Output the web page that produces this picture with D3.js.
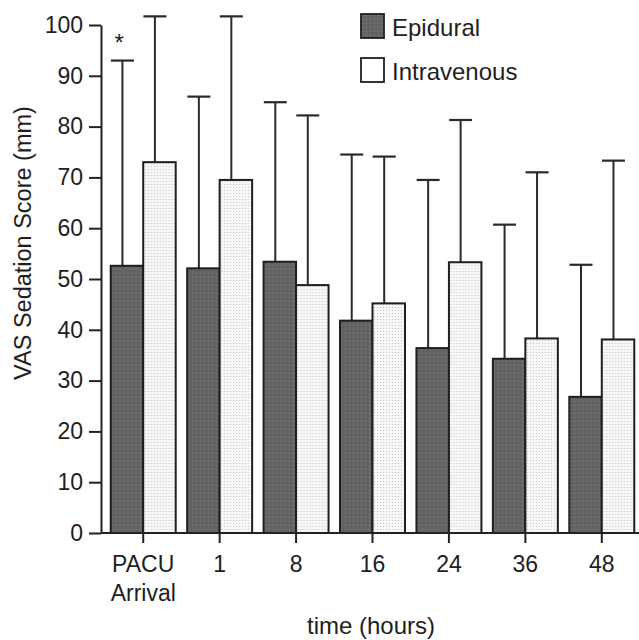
<!DOCTYPE html>
<html>
<head>
<meta charset="utf-8">
<script src="https://cdn.jsdelivr.net/npm/d3@7/dist/d3.min.js"></script>
<style>
  html, body { margin: 0; padding: 0; background: #fff; }
  svg { display: block; }
  text { font-family: "Liberation Sans", Arial, Helvetica, sans-serif; fill: #1e1e1e; }
</style>
</head>
<body>
<svg id="chart" width="639" height="640"></svg>
<script>
// ---- data ----
const categories = ["PACU\nArrival", "1", "8", "16", "24", "36", "48"];
const series = ["Epidural", "Intravenous"];
const epiduralMean = [52.6, 52.1, 53.4, 41.8, 36.4, 34.3, 26.8];
const epiduralSD   = [93.0, 85.9, 84.8, 74.5, 69.5, 60.7, 52.8];   // top of error bar
const ivMean       = [73.0, 69.5, 48.8, 45.2, 53.3, 38.3, 38.1];
const ivSD         = [101.7, 101.7, 82.2, 74.1, 81.3, 71.0, 73.3];  // top of error bar
const yTicks = [0, 10, 20, 30, 40, 50, 60, 70, 80, 90, 100];
const significant = [true, false, false, false, false, false, false];

const svg = d3.select("#chart");

// patterns
const defs = svg.append("defs");
const pE = defs.append("pattern").attr("id", "pEpi").attr("patternUnits", "userSpaceOnUse")
  .attr("width", 4).attr("height", 4);
pE.append("rect").attr("width", 4).attr("height", 4).attr("fill", "#646464");
pE.append("rect").attr("x", 1).attr("y", 1).attr("width", 1).attr("height", 1).attr("fill", "#808080");
pE.append("rect").attr("x", 3).attr("y", 2).attr("width", 1).attr("height", 1).attr("fill", "#575757");
const pI = defs.append("pattern").attr("id", "pIV").attr("patternUnits", "userSpaceOnUse")
  .attr("width", 3).attr("height", 3);
pI.append("rect").attr("width", 3).attr("height", 3).attr("fill", "#f7f7f7");
pI.append("rect").attr("x", 1).attr("y", 1).attr("width", 1).attr("height", 1).attr("fill", "#c4c4c4");

const fills = { "Epidural": "url(#pEpi)", "Intravenous": "url(#pIV)" };

const axisX = 101, axisRight = 639;
const x = d3.scaleBand().domain(categories).range([105, 640]).paddingInner(0.15).paddingOuter(0.075);
const xs = d3.scaleBand().domain(series).range([0, x.bandwidth()]).padding(0);
const y = d3.scaleLinear().domain([0, 100]).range([533, 25]);

const rows = categories.map((c, i) => ({
  cat: c,
  vals: [
    { s: "Epidural", m: epiduralMean[i], top: epiduralSD[i] },
    { s: "Intravenous", m: ivMean[i], top: ivSD[i] }
  ]
}));

const g = svg.append("g");
const groups = g.selectAll("g.grp").data(rows).join("g")
  .attr("class", "grp")
  .attr("transform", d => `translate(${x(d.cat)},0)`);

// error bars (drawn first so bars cover the lower portion)
const capW = 23;
groups.selectAll("g.err").data(d => d.vals).join("g").attr("class", "err").each(function(d) {
  const cx = xs(d.s) + xs.bandwidth() * 0.36;
  const e = d3.select(this);
  e.append("line").attr("x1", cx).attr("x2", cx).attr("y1", y(d.m)).attr("y2", y(d.top))
    .attr("stroke", "#2a2a2a").attr("stroke-width", 2);
  e.append("line").attr("x1", cx - capW / 2).attr("x2", cx + capW / 2).attr("y1", y(d.top)).attr("y2", y(d.top))
    .attr("stroke", "#2a2a2a").attr("stroke-width", 2.2);
});

groups.selectAll("rect.bar").data(d => d.vals).join("rect")
  .attr("class", "bar")
  .attr("x", d => xs(d.s))
  .attr("y", d => y(d.m))
  .attr("width", xs.bandwidth())
  .attr("height", d => y(0) - y(d.m))
  .attr("fill", d => fills[d.s])
  .attr("stroke", "#1e1e1e")
  .attr("stroke-width", 2);

// asterisk
groups.filter((d, i) => significant[i]).append("text")
  .attr("x", xs("Epidural") + xs.bandwidth() * 0.26)
  .attr("y", y(epiduralSD[0]) - 10)
  .attr("text-anchor", "middle")
  .attr("font-size", 24)
  .text("*");

// y axis
const yAxis = g.append("g").attr("transform", `translate(${axisX},0)`)
  .call(d3.axisLeft(y).tickValues(yTicks).tickSize(12).tickPadding(6).tickSizeOuter(0));
yAxis.select(".domain").attr("stroke", "#222").attr("stroke-width", 2);
yAxis.selectAll(".tick line").attr("stroke", "#222").attr("stroke-width", 2);
yAxis.selectAll(".tick text").attr("font-size", 23).attr("fill", "#1e1e1e")
  .style("font-family", '"Liberation Sans", Arial, sans-serif');

// x axis
const xAxis = g.append("g").attr("transform", `translate(0,${y(0)})`)
  .call(d3.axisBottom(x).tickSize(10).tickPadding(13).tickSizeOuter(0));
xAxis.select(".domain").attr("d", `M${axisX},0H${axisRight}`).attr("stroke", "#222").attr("stroke-width", 2);
xAxis.selectAll(".tick line").attr("stroke", "#222").attr("stroke-width", 2);
xAxis.selectAll(".tick text").each(function(d) {
  const t = d3.select(this);
  const lines = d.split("\n");
  t.text(null).attr("font-size", 23).attr("fill", "#1e1e1e")
    .style("font-family", '"Liberation Sans", Arial, sans-serif');
  lines.forEach((ln, k) => {
    t.append("tspan").attr("x", 0).attr("dy", k === 0 ? "0.71em" : "1.25em").text(ln);
  });
});

// axis titles
svg.append("text")
  .attr("transform", `translate(31,${243}) rotate(-90)`)
  .attr("text-anchor", "middle")
  .attr("font-size", 23.5)
  .text("VAS Sedation Score (mm)");
svg.append("text")
  .attr("x", 371).attr("y", 634)
  .attr("text-anchor", "middle")
  .attr("font-size", 24)
  .text("time (hours)");

// legend
const leg = svg.append("g").attr("transform", "translate(361,14)");
series.forEach((s, i) => {
  const lg = leg.append("g").attr("transform", `translate(0,${i * 44})`);
  lg.append("rect").attr("width", 23).attr("height", 24)
    .attr("fill", s === "Epidural" ? fills[s] : "#fff")
    .attr("stroke", "#1e1e1e").attr("stroke-width", 1.8);
  lg.append("text").attr("x", 31).attr("y", 22).attr("font-size", 24).text(s);
});
</script>
</body>
</html>
